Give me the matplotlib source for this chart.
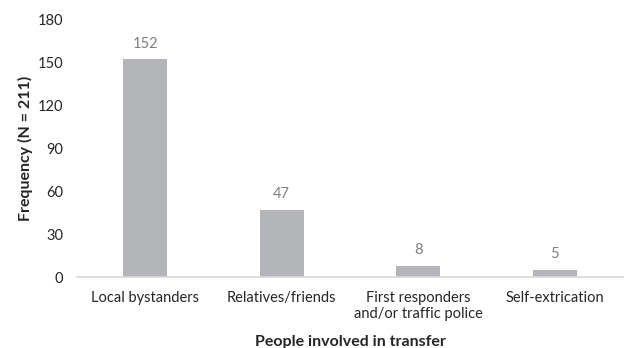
import matplotlib.pyplot as plt

plt.rcParams['font.family'] = ['Lato', 'DejaVu Sans']

categories = ['Local bystanders', 'Relatives/friends',
              'First responders\nand/or traffic police', 'Self-extrication']
counts = [152, 47, 8, 5]

fig = plt.figure(figsize=(6.25, 3.48), dpi=100)
ax = fig.add_axes([0.123, 0.204, 0.874, 0.741])

x = range(len(categories))
bars = ax.bar(x, counts, width=0.32, color='#b4b5b8', zorder=2)
for b, v in zip(bars, counts):
    ax.text(b.get_x() + b.get_width() / 2, v + 6, str(v),
            ha='center', va='bottom', fontsize=10.5, color='#7f7f7f')

ax.set_xlim(-0.5, len(categories) - 0.5)
ax.set_ylim(0, 180)
ax.set_yticks(range(0, 181, 30))
ax.set_xticks(list(x))
ax.set_xticklabels(categories, fontsize=10.5, color='#262626', va='top')
ax.tick_params(axis='y', labelsize=10.5, labelcolor='#262626', length=0, pad=10)
ax.tick_params(axis='x', length=0, pad=10)

for s in ['top', 'right', 'left']:
    ax.spines[s].set_visible(False)
ax.spines['bottom'].set_color('#d9d9d9')
ax.spines['bottom'].set_linewidth(1.2)

ax.set_ylabel('Frequency (N = 211)', fontsize=11.5, fontweight='bold',
              color='#262626', labelpad=3)
ax.set_xlabel('People involved in transfer', fontsize=11.5, fontweight='bold',
              color='#262626', labelpad=10)

fig.savefig('out.png', dpi=100)
